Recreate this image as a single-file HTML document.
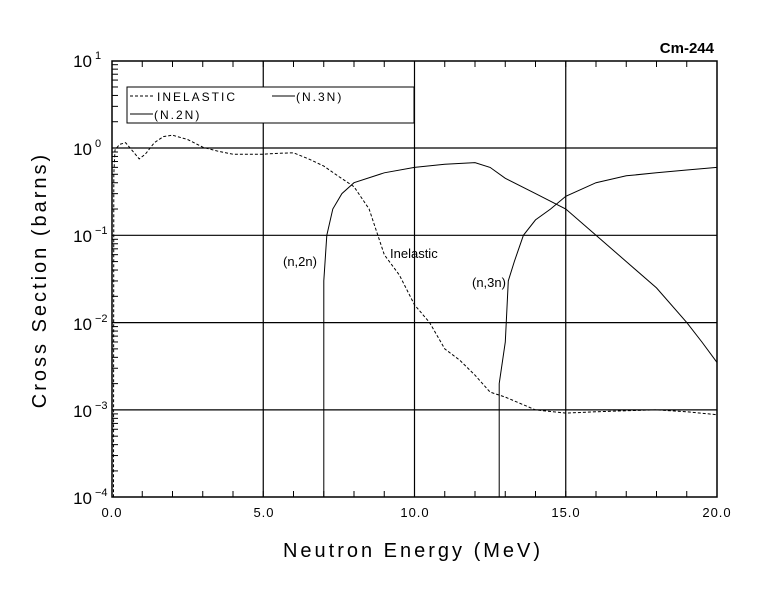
<!DOCTYPE html>
<html><head><meta charset="utf-8"><style>
body{margin:0;background:#fff}
svg{display:block}
text{font-family:"Liberation Sans",sans-serif;fill:#000}
</style></head><body>
<svg id="s" width="780" height="590" viewBox="0 0 780 590" xmlns="http://www.w3.org/2000/svg">
<rect width="780" height="590" fill="#fff"/>
<g id="grid" stroke="#000" stroke-width="1.2" fill="none"></g>
<rect x="112" y="61" width="605" height="436" fill="none" stroke="#000" stroke-width="1.5"/>
<rect x="127" y="87" width="287" height="36" fill="#fff" stroke="#000" stroke-width="1"/>
<line x1="130" y1="96" x2="155" y2="96" stroke="#000" stroke-dasharray="3,2"/>
<text x="157" y="101" font-size="12" letter-spacing="2">INELASTIC</text>
<line x1="272" y1="96" x2="295" y2="96" stroke="#000"/>
<text x="296" y="101" font-size="12" letter-spacing="2">(N.3N)</text>
<line x1="130" y1="114" x2="153" y2="114" stroke="#000"/>
<text x="154" y="119" font-size="12" letter-spacing="2">(N.2N)</text>
<g id="curves" fill="none" stroke="#000" stroke-width="1"></g>
<text x="714" y="53" font-size="15" font-weight="bold" text-anchor="end">Cm-244</text>
<text x="283" y="266" font-size="13">(n,2n)</text>
<text x="390" y="258" font-size="13">Inelastic</text>
<text x="472" y="287" font-size="13">(n,3n)</text>
<g font-size="17" text-anchor="end">
<text x="92" y="67">10</text><text x="95" y="59" font-size="11" text-anchor="start">1</text>
<text x="92" y="155">10</text><text x="95" y="147" font-size="11" text-anchor="start">0</text>
<text x="92" y="242">10</text><text x="95" y="234" font-size="11" text-anchor="start">−1</text>
<text x="92" y="330">10</text><text x="95" y="322" font-size="11" text-anchor="start">−2</text>
<text x="92" y="417">10</text><text x="95" y="409" font-size="11" text-anchor="start">−3</text>
<text x="92" y="504">10</text><text x="95" y="496" font-size="11" text-anchor="start">−4</text>
</g>
<g font-size="13" text-anchor="middle" letter-spacing="1">
<text x="112" y="517">0.0</text><text x="264" y="517">5.0</text><text x="415" y="517">10.0</text><text x="566" y="517">15.0</text><text x="717" y="517">20.0</text>
</g>
<text x="413" y="557" font-size="20" text-anchor="middle" letter-spacing="3">Neutron Energy (MeV)</text>
<text transform="translate(46,280) rotate(-90)" font-size="20" text-anchor="middle" letter-spacing="3">Cross Section (barns)</text>
</svg>
<script>
var X=function(e){return 112+e*30.25},Y=function(v){return 148-Math.log10(v)*87.3};
var g=document.getElementById('grid'),c=document.getElementById('curves'),ns='http://www.w3.org/2000/svg';
function ln(p,x1,y1,x2,y2,w){var l=document.createElementNS(ns,'line');l.setAttribute('x1',x1);l.setAttribute('y1',y1);l.setAttribute('x2',x2);l.setAttribute('y2',y2);if(w)l.setAttribute('stroke-width',w);p.appendChild(l);}
[5,10,15].forEach(function(e){ln(g,X(e),61,X(e),497)});
[0,-1,-2,-3].forEach(function(d){ln(g,112,Y(Math.pow(10,d)),717,Y(Math.pow(10,d)))});
for(var e=1;e<20;e++){ln(g,X(e),61,X(e),67,1);ln(g,X(e),497,X(e),491,1);}
for(var d=-4;d<1;d++)for(var m=2;m<10;m++){var y=Y(m*Math.pow(10,d));ln(g,112,y,118,y,1);}
function pl(pts,dash){var p=document.createElementNS(ns,'polyline');p.setAttribute('points',pts.map(function(a){return X(a[0]).toFixed(1)+','+Y(a[1]).toFixed(1)}).join(' '));if(dash)p.setAttribute('stroke-dasharray','3,2');c.appendChild(p);}
pl([[0.05,1e-4],[0.06,0.5],[0.1,0.95],[0.25,1.1],[0.45,1.15],[0.65,0.95],[0.9,0.75],[1.1,0.85],[1.4,1.15],[1.7,1.35],[2,1.4],[2.5,1.25],[3,1.02],[3.5,0.92],[4,0.85],[5,0.85],[5.5,0.87],[6,0.88],[6.5,0.75],[7,0.62],[7.5,0.47],[8,0.36],[8.5,0.2],[9,0.06],[9.5,0.035],[10,0.016],[10.5,0.01],[11,0.005],[11.5,0.0037],[12,0.0025],[12.5,0.0016],[13,0.0014],[14,0.001],[15,0.00092],[16,0.00095],[17,0.00098],[18,0.001],[19,0.00095],[20,0.00088]],true);
pl([[7,1e-4],[7,0.03],[7.1,0.1],[7.3,0.2],[7.6,0.3],[8,0.4],[9,0.52],[10,0.6],[11,0.65],[12,0.68],[12.5,0.6],[13,0.45],[14,0.3],[15,0.2],[16,0.1],[17,0.05],[18,0.025],[19,0.01],[19.5,0.006],[20,0.0035]]);
pl([[12.8,1e-4],[12.8,0.002],[13,0.006],[13.1,0.03],[13.3,0.05],[13.6,0.1],[14,0.15],[14.5,0.2],[15,0.28],[16,0.4],[17,0.48],[18,0.52],[19,0.56],[20,0.6]]);
</script>
</body></html>
